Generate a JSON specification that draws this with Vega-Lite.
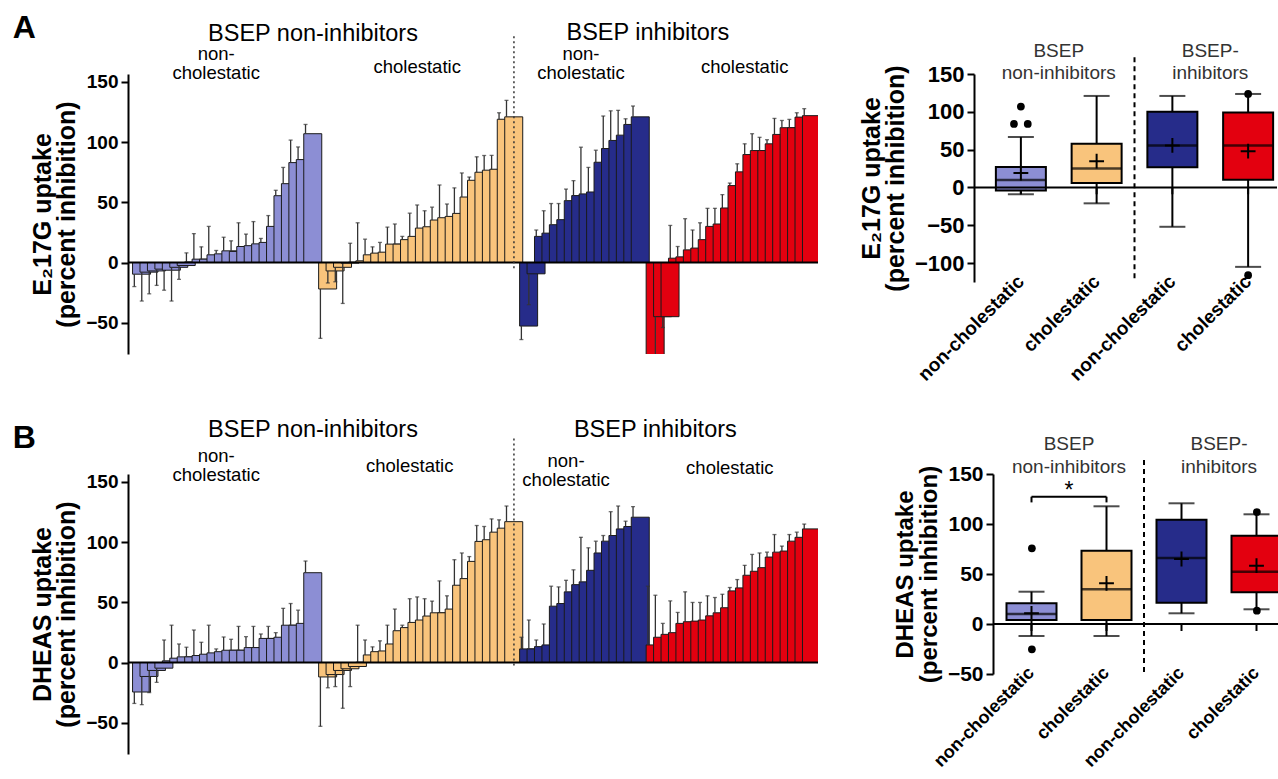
{
  "$schema": "https://vega.github.io/schema/vega-lite/v6.json",
  "padding": {"left": 12, "top": 11, "right": 0, "bottom": 0},
  "config": {
    "font": "Liberation Sans",
    "view": {"stroke": null},
    "axis": {"grid": false, "domainColor": "black", "tickColor": "black", "labelColor": "black", "titleColor": "black"}
  },
  "datasets": {
    "barsA": [
      {"i":1,"g":"ni_nc","v":-9.7,"e":-20},{"i":2,"g":"ni_nc","v":-8,"e":-32},{"i":3,"g":"ni_nc","v":-7,"e":-26},{"i":4,"g":"ni_nc","v":-5.5,"e":-19},
      {"i":5,"g":"ni_nc","v":-6.4,"e":-23},{"i":6,"g":"ni_nc","v":-4,"e":-32},{"i":7,"g":"ni_nc","v":-2.5,"e":-14},{"i":8,"g":"ni_nc","v":0.5,"e":8},
      {"i":9,"g":"ni_nc","v":2.8,"e":24},{"i":10,"g":"ni_nc","v":2.8,"e":13},{"i":11,"g":"ni_nc","v":6.4,"e":30},{"i":12,"g":"ni_nc","v":7.2,"e":10},
      {"i":13,"g":"ni_nc","v":9.7,"e":21},{"i":14,"g":"ni_nc","v":9.2,"e":18},{"i":15,"g":"ni_nc","v":13.3,"e":33},{"i":16,"g":"ni_nc","v":14,"e":23.6},
      {"i":17,"g":"ni_nc","v":15.5,"e":34},{"i":18,"g":"ni_nc","v":16.7,"e":20},{"i":19,"g":"ni_nc","v":30,"e":39},{"i":20,"g":"ni_nc","v":55.5,"e":60},
      {"i":21,"g":"ni_nc","v":65.5,"e":79},{"i":22,"g":"ni_nc","v":83,"e":101.7},{"i":23,"g":"ni_nc","v":85.5,"e":96},{"i":24,"g":"ni_nc","v":107,"e":114.7},
      {"i":26,"g":"ni_c","v":-22,"e":-63},{"i":27,"g":"ni_c","v":-7,"e":-17},{"i":28,"g":"ni_c","v":-4,"e":-16},{"i":29,"g":"ni_c","v":-0.5,"e":-34},
      {"i":30,"g":"ni_c","v":0.3,"e":16},{"i":31,"g":"ni_c","v":1.4,"e":33},{"i":32,"g":"ni_c","v":6.4,"e":19.4},{"i":33,"g":"ni_c","v":7.8,"e":13},
      {"i":34,"g":"ni_c","v":8.6,"e":16.7},{"i":35,"g":"ni_c","v":15.3,"e":29.4},{"i":36,"g":"ni_c","v":15.3,"e":32},{"i":37,"g":"ni_c","v":19,"e":21.7},
      {"i":38,"g":"ni_c","v":21.7,"e":41},{"i":39,"g":"ni_c","v":28.6,"e":47.8},{"i":40,"g":"ni_c","v":29.7,"e":43},{"i":41,"g":"ni_c","v":35.3,"e":46},
      {"i":42,"g":"ni_c","v":37.2,"e":64.4},{"i":43,"g":"ni_c","v":38.3,"e":48.6},{"i":44,"g":"ni_c","v":40.8,"e":62},{"i":45,"g":"ni_c","v":54.4,"e":74.4},
      {"i":46,"g":"ni_c","v":68.3,"e":71},{"i":47,"g":"ni_c","v":75,"e":87.8},{"i":48,"g":"ni_c","v":76.7,"e":88.9},{"i":49,"g":"ni_c","v":77.5,"e":89},
      {"i":50,"g":"ni_c","v":119,"e":124.4},{"i":51,"g":"ni_c","v":121,"e":134.7},
      {"i":53,"g":"i_nc","v":-52.8,"e":-64},{"i":54,"g":"i_nc","v":-9.4,"e":-35},{"i":55,"g":"i_nc","v":21.7,"e":27},{"i":56,"g":"i_nc","v":24.4,"e":43},
      {"i":57,"g":"i_nc","v":31.4,"e":49},{"i":58,"g":"i_nc","v":35.6,"e":49},{"i":59,"g":"i_nc","v":51.4,"e":61},{"i":60,"g":"i_nc","v":55.6,"e":68},
      {"i":61,"g":"i_nc","v":57,"e":95.8},{"i":62,"g":"i_nc","v":58.6,"e":79},{"i":63,"g":"i_nc","v":83.3,"e":93.3},{"i":64,"g":"i_nc","v":94.7,"e":121.7},
      {"i":65,"g":"i_nc","v":101.4,"e":126},{"i":66,"g":"i_nc","v":105.8,"e":126.4},{"i":67,"g":"i_nc","v":114.7,"e":119.4},{"i":68,"g":"i_nc","v":121,"e":130},
      {"i":70,"g":"i_c","v":-90,"e":-100},{"i":71,"g":"i_c","v":-45,"e":-100},{"i":72,"g":"i_c","v":-45,"e":-54},{"i":73,"g":"i_c","v":3.6,"e":30.8},
      {"i":74,"g":"i_c","v":4.7,"e":13.3},{"i":75,"g":"i_c","v":10.5,"e":36.4},{"i":76,"g":"i_c","v":12,"e":27},{"i":77,"g":"i_c","v":19,"e":33},
      {"i":78,"g":"i_c","v":30,"e":45},{"i":79,"g":"i_c","v":32,"e":45},{"i":80,"g":"i_c","v":45.3,"e":56.4},{"i":81,"g":"i_c","v":63.9,"e":66},
      {"i":82,"g":"i_c","v":75.3,"e":82},{"i":83,"g":"i_c","v":89.7,"e":98.6},{"i":84,"g":"i_c","v":93,"e":107},{"i":85,"g":"i_c","v":93,"e":104},
      {"i":86,"g":"i_c","v":98.6,"e":102},{"i":87,"g":"i_c","v":106.4,"e":119.7},{"i":88,"g":"i_c","v":112,"e":118},{"i":89,"g":"i_c","v":112,"e":118.9},
      {"i":90,"g":"i_c","v":120.8,"e":124.4},{"i":91,"g":"i_c","v":122,"e":127.8}
    ],
    "barsB": [
      {"i":1,"g":"ni_nc","v":-24.5,"e":-34},{"i":2,"g":"ni_nc","v":-11.6,"e":-35},{"i":3,"g":"ni_nc","v":-6.6,"e":-25},{"i":4,"g":"ni_nc","v":-4.7,"e":-16.5},
      {"i":5,"g":"ni_nc","v":1.4,"e":18.7},{"i":6,"g":"ni_nc","v":3.6,"e":31},{"i":7,"g":"ni_nc","v":4.7,"e":15.4},{"i":8,"g":"ni_nc","v":4.7,"e":12.7},
      {"i":9,"g":"ni_nc","v":5.8,"e":27},{"i":10,"g":"ni_nc","v":6.9,"e":16.8},{"i":11,"g":"ni_nc","v":8,"e":31},{"i":12,"g":"ni_nc","v":9,"e":11.3},
      {"i":13,"g":"ni_nc","v":10.2,"e":21.2},{"i":14,"g":"ni_nc","v":10.2,"e":19.3},{"i":15,"g":"ni_nc","v":10.2,"e":30},{"i":16,"g":"ni_nc","v":12.4,"e":21.5},
      {"i":17,"g":"ni_nc","v":12.4,"e":30},{"i":18,"g":"ni_nc","v":20,"e":23.7},{"i":19,"g":"ni_nc","v":20,"e":30},{"i":20,"g":"ni_nc","v":21,"e":24.8},
      {"i":21,"g":"ni_nc","v":31,"e":45},{"i":22,"g":"ni_nc","v":31,"e":49},{"i":23,"g":"ni_nc","v":32.5,"e":43.5},{"i":24,"g":"ni_nc","v":74.6,"e":84.3},
      {"i":26,"g":"ni_c","v":-12,"e":-53},{"i":27,"g":"ni_c","v":-10,"e":-21},{"i":28,"g":"ni_c","v":-6.6,"e":-20},{"i":29,"g":"ni_c","v":-5.2,"e":-38},
      {"i":30,"g":"ni_c","v":-3.3,"e":-20},{"i":31,"g":"ni_c","v":0.3,"e":31},{"i":32,"g":"ni_c","v":6.3,"e":18.7},{"i":33,"g":"ni_c","v":9,"e":13},
      {"i":34,"g":"ni_c","v":9.6,"e":18},{"i":35,"g":"ni_c","v":15.4,"e":31},{"i":36,"g":"ni_c","v":26.4,"e":44.4},{"i":37,"g":"ni_c","v":29,"e":31},
      {"i":38,"g":"ni_c","v":33.3,"e":53},{"i":39,"g":"ni_c","v":35.3,"e":54.5},{"i":40,"g":"ni_c","v":38.6,"e":53},{"i":41,"g":"ni_c","v":41.3,"e":51},
      {"i":42,"g":"ni_c","v":41.3,"e":67.8},{"i":43,"g":"ni_c","v":44.4,"e":55.4},{"i":44,"g":"ni_c","v":64.2,"e":85.4},{"i":45,"g":"ni_c","v":69.7,"e":91},
      {"i":46,"g":"ni_c","v":84,"e":88},{"i":47,"g":"ni_c","v":100.6,"e":113.8},{"i":48,"g":"ni_c","v":102,"e":113},{"i":49,"g":"ni_c","v":108.3,"e":119.3},
      {"i":50,"g":"ni_c","v":111.6,"e":118.5},{"i":51,"g":"ni_c","v":117,"e":130},
      {"i":53,"g":"i_nc","v":11.3,"e":21},{"i":54,"g":"i_nc","v":11.3,"e":35.3},{"i":55,"g":"i_nc","v":13.2,"e":18.7},{"i":56,"g":"i_nc","v":14.6,"e":32},
      {"i":57,"g":"i_nc","v":46.8,"e":63.4},{"i":58,"g":"i_nc","v":49,"e":62.8},{"i":59,"g":"i_nc","v":58.7,"e":68.3},{"i":60,"g":"i_nc","v":64.7,"e":77},
      {"i":61,"g":"i_nc","v":67,"e":104},{"i":62,"g":"i_nc","v":76.6,"e":95.3},{"i":63,"g":"i_nc","v":91,"e":100.8},{"i":64,"g":"i_nc","v":100.8,"e":105.5},
      {"i":65,"g":"i_nc","v":105.5,"e":125.3},{"i":66,"g":"i_nc","v":111,"e":130},{"i":67,"g":"i_nc","v":113,"e":117.4},{"i":68,"g":"i_nc","v":120.7,"e":129.5},
      {"i":70,"g":"i_c","v":14.6,"e":63.4},{"i":71,"g":"i_c","v":21,"e":55.9},{"i":72,"g":"i_c","v":23.4,"e":32.5},{"i":73,"g":"i_c","v":24.8,"e":51.2},
      {"i":74,"g":"i_c","v":32.5,"e":41.6},{"i":75,"g":"i_c","v":33.9,"e":58.7},{"i":76,"g":"i_c","v":34.4,"e":49.9},{"i":77,"g":"i_c","v":35.3,"e":49.9},
      {"i":78,"g":"i_c","v":38.8,"e":55.4},{"i":79,"g":"i_c","v":41.3,"e":54},{"i":80,"g":"i_c","v":45.5,"e":56.7},{"i":81,"g":"i_c","v":59.5,"e":62.3},
      {"i":82,"g":"i_c","v":62,"e":68.9},{"i":83,"g":"i_c","v":72.5,"e":80.7},{"i":84,"g":"i_c","v":75.8,"e":89.8},{"i":85,"g":"i_c","v":78.8,"e":91},
      {"i":86,"g":"i_c","v":87.6,"e":91.7},{"i":87,"g":"i_c","v":91.7,"e":106.3},{"i":88,"g":"i_c","v":92.6,"e":96.7},{"i":89,"g":"i_c","v":100.8,"e":106.3},
      {"i":90,"g":"i_c","v":104,"e":108.3},{"i":91,"g":"i_c","v":111,"e":115}
    ],
    "boxA": [
      {"cat":"ni_nc","lo":-9,"q1":-4,"med":10,"q3":27,"hi":66.7,"mean":19},
      {"cat":"ni_c","lo":-21,"q1":5.8,"med":25,"q3":57.8,"hi":121,"mean":34.7},
      {"cat":"i_nc","lo":-52,"q1":26.7,"med":55.6,"q3":100,"hi":121,"mean":55.6},
      {"cat":"i_c","lo":-105,"q1":10.2,"med":55.6,"q3":99,"hi":123.6,"mean":48}
    ],
    "boxB": [
      {"cat":"ni_nc","lo":-12,"q1":4,"med":10,"q3":20.7,"hi":32.3,"mean":10.7},
      {"cat":"ni_c","lo":-12,"q1":4,"med":34.7,"q3":73.3,"hi":117.7,"mean":40.7},
      {"cat":"i_nc","lo":10.7,"q1":21.3,"med":66,"q3":104.3,"hi":120.7,"mean":65},
      {"cat":"i_c","lo":14.7,"q1":31.7,"med":52.3,"q3":88.3,"hi":109.7,"mean":58.3}
    ],
    "outA": [
      {"cat":"ni_nc","v":107,"o":"f"},{"cat":"ni_nc","v":84,"o":"e"},{"cat":"ni_nc","v":84,"o":"g"},
      {"cat":"i_c","v":123.6,"o":"f"},{"cat":"i_c","v":-116,"o":"f"}
    ],
    "outB": [
      {"cat":"ni_nc","v":75.7,"o":"f"},{"cat":"ni_nc","v":-25.3,"o":"f"},
      {"cat":"i_c","v":112,"o":"f"},{"cat":"i_c","v":13.3,"o":"f"}
    ]
  },
  "spacing": 33,
  "vconcat": [
    {
      "spacing": 40,
      "hconcat": [
        {
          "width": 690, "height": 280,
          "title": {"text": "A", "anchor": "start", "frame": "bounds", "fontSize": 32, "fontWeight": "bold", "dx": -18, "dy": 28},
          "layer": [
            {"data": {"name": "barsA"}, "mark": {"type": "bar", "stroke": "#1a1a1a", "strokeWidth": 1, "clip": true, "width": {"band": 0.68}},
             "encoding": {
               "x": {"field": "i", "type": "ordinal", "scale": {"domain": [1,2,3,4,5,6,7,8,9,10,11,12,13,14,15,16,17,18,19,20,21,22,23,24,25,26,27,28,29,30,31,32,33,34,35,36,37,38,39,40,41,42,43,44,45,46,47,48,49,50,51,52,53,54,55,56,57,58,59,60,61,62,63,64,65,66,67,68,69,70,71,72,73,74,75,76,77,78,79,80,81,82,83,84,85,86,87,88,89,90,91,92], "paddingInner": 0.3, "paddingOuter": 0.5}, "axis": null},
               "y": {"field": "v", "type": "quantitative", "scale": {"domain": [-76, 156.6], "nice": false},
                     "axis": {"values": [-50, 0, 50, 100, 150], "title": ["E₂17G uptake", "(percent inhibition)"], "titleFontSize": 25, "titleFontWeight": "bold", "titleLineHeight": 24, "labelFontSize": 19, "labelFontWeight": "bold", "tickSize": 7, "tickWidth": 2, "domainWidth": 2, "labelPadding": 3, "titlePadding": 6}},
               "color": {"field": "g", "type": "nominal", "scale": {"domain": ["ni_nc", "ni_c", "i_nc", "i_c"], "range": ["#8c8ed4", "#f9c47c", "#262c8a", "#e3000f"]}, "legend": null}
             }},
            {"data": {"name": "barsA"}, "mark": {"type": "rule", "color": "#333333", "strokeWidth": 1.3, "clip": true},
             "encoding": {"x": {"field": "i", "type": "ordinal"}, "y": {"field": "v", "type": "quantitative"}, "y2": {"field": "e"}}},
            {"data": {"name": "barsA"}, "mark": {"type": "tick", "color": "#333333", "thickness": 1.3, "size": 4, "clip": true},
             "encoding": {"x": {"field": "i", "type": "ordinal"}, "y": {"field": "e", "type": "quantitative"}}},
            {"data": {"values": [{}]}, "mark": {"type": "rule", "color": "black", "strokeWidth": 2},
             "encoding": {"y": {"datum": 0, "type": "quantitative"}}},
            {"data": {"values": [{}]}, "mark": {"type": "rule", "color": "#333333", "strokeWidth": 1.5, "strokeDash": [2, 3]},
             "encoding": {"x": {"datum": 52, "type": "ordinal"}, "y": {"datum": 188, "type": "quantitative"}, "y2": {"datum": -6}}},
            {"data": {"values": [{}]}, "mark": {"type": "text", "text": "BSEP non-inhibitors", "fontSize": 23.5, "align": "center", "baseline": "middle"},
             "encoding": {"x": {"datum": 25, "type": "ordinal"}, "y": {"datum": 190, "type": "quantitative"}}},
            {"data": {"values": [{}]}, "mark": {"type": "text", "text": "BSEP inhibitors", "fontSize": 23.5, "align": "center", "baseline": "middle"},
             "encoding": {"x": {"datum": 70, "type": "ordinal"}, "y": {"datum": 191, "type": "quantitative"}}},
            {"data": {"values": [{}]}, "mark": {"type": "text", "text": ["non-", "cholestatic"], "fontSize": 18.5, "lineHeight": 19, "align": "center", "baseline": "middle"},
             "encoding": {"x": {"datum": 12, "type": "ordinal"}, "y": {"datum": 173, "type": "quantitative"}}},
            {"data": {"values": [{}]}, "mark": {"type": "text", "text": "cholestatic", "fontSize": 18.5, "align": "center", "baseline": "middle"},
             "encoding": {"x": {"datum": 39, "type": "ordinal"}, "y": {"datum": 162, "type": "quantitative"}}},
            {"data": {"values": [{}]}, "mark": {"type": "text", "text": ["non-", "cholestatic"], "fontSize": 18.5, "lineHeight": 19, "align": "center", "baseline": "middle"},
             "encoding": {"x": {"datum": 61, "type": "ordinal"}, "y": {"datum": 173, "type": "quantitative"}}},
            {"data": {"values": [{}]}, "mark": {"type": "text", "text": "cholestatic", "fontSize": 18.5, "align": "center", "baseline": "middle"},
             "encoding": {"x": {"datum": 83, "type": "ordinal"}, "y": {"datum": 162, "type": "quantitative"}}}
          ]
        },
        {
          "width": 303, "height": 208,
          "layer": [
            {"data": {"name": "boxA"}, "mark": {"type": "rule", "color": "black", "strokeWidth": 2},
             "encoding": {
               "x": {"field": "cat", "type": "nominal", "scale": {"domain": ["ni_nc", "ni_c", "i_nc", "i_c"], "range": [9, 312], "paddingInner": 0, "paddingOuter": 0},
                     "axis": {"title": null, "domain": false, "ticks": false, "tickSize": 0, "labelAngle": -45, "labelAlign": "right", "labelBaseline": "middle", "labelFontSize": 19, "labelFontWeight": "bold", "labelPadding": -4,
                              "labelExpr": "datum.value == 'ni_nc' || datum.value == 'i_nc' ? 'non-cholestatic' : 'cholestatic'"}},
               "y": {"field": "lo", "type": "quantitative", "scale": {"domain": [-125, 150], "nice": false},
                     "axis": {"values": [-100, -50, 0, 50, 100, 150], "title": ["E₂17G uptake", "(percent inhibition)"], "titleFontSize": 25, "titleFontWeight": "bold", "titleLineHeight": 24, "labelFontSize": 22, "labelFontWeight": "bold", "tickSize": 7, "tickWidth": 2, "domainWidth": 2, "labelPadding": 3, "titlePadding": 6}},
               "y2": {"field": "hi"}
             }},
            {"data": {"name": "boxA"}, "mark": {"type": "tick", "color": "black", "thickness": 2, "size": 26},
             "encoding": {"x": {"field": "cat", "type": "nominal"}, "y": {"field": "lo", "type": "quantitative"}}},
            {"data": {"name": "boxA"}, "mark": {"type": "tick", "color": "black", "thickness": 2, "size": 26},
             "encoding": {"x": {"field": "cat", "type": "nominal"}, "y": {"field": "hi", "type": "quantitative"}}},
            {"data": {"name": "boxA"}, "mark": {"type": "rule", "color": "black", "strokeWidth": 2},
             "encoding": {"x": {"field": "cat", "type": "nominal"}, "y": {"datum": 0, "type": "quantitative"}, "y2": {"datum": -9}}},
            {"data": {"name": "boxA"}, "mark": {"type": "bar", "size": 50, "stroke": "black", "strokeWidth": 2},
             "encoding": {"x": {"field": "cat", "type": "nominal"}, "y": {"field": "q1", "type": "quantitative"}, "y2": {"field": "q3"},
                          "color": {"field": "cat", "type": "nominal", "scale": {"domain": ["ni_nc", "ni_c", "i_nc", "i_c"], "range": ["#9294d6", "#f6c07c", "#262c8a", "#e3000f"]}, "legend": null}}},
            {"data": {"name": "boxA"}, "mark": {"type": "tick", "color": "black", "thickness": 2.5, "size": 50},
             "encoding": {"x": {"field": "cat", "type": "nominal"}, "y": {"field": "med", "type": "quantitative"}}},
            {"data": {"name": "boxA"}, "mark": {"type": "point", "shape": "M-1,0L1,0M0,-1L0,1", "filled": false, "stroke": "black", "strokeWidth": 2, "size": 220, "opacity": 1},
             "encoding": {"x": {"field": "cat", "type": "nominal"}, "y": {"field": "mean", "type": "quantitative"}}},
            {"data": {"values": [{}]}, "mark": {"type": "rule", "color": "black", "strokeWidth": 2},
             "encoding": {"y": {"datum": 0, "type": "quantitative"}}},
            {"data": {"name": "outA"}, "mark": {"type": "point", "shape": "circle", "filled": true, "color": "black", "size": 60, "opacity": 1},
             "encoding": {"x": {"field": "cat", "type": "nominal"}, "xOffset": {"field": "o", "type": "nominal", "scale": {"domain": ["a","b","c","d","e","f","g","h","i","j","k"]}}, "y": {"field": "v", "type": "quantitative"}}},
            {"data": {"values": [{}]}, "mark": {"type": "rule", "color": "black", "strokeWidth": 2, "strokeDash": [5, 4]},
             "encoding": {"x": {"datum": "ni_c", "type": "nominal", "bandPosition": 1}, "y": {"datum": 172, "type": "quantitative"}, "y2": {"datum": -125}}},
            {"data": {"values": [{}]}, "mark": {"type": "text", "text": ["BSEP", "non-inhibitors"], "fontSize": 19, "lineHeight": 22, "align": "center", "baseline": "middle", "color": "#333333"},
             "encoding": {"x": {"datum": "ni_nc", "type": "nominal", "bandPosition": 1}, "y": {"datum": 180, "type": "quantitative"}}},
            {"data": {"values": [{}]}, "mark": {"type": "text", "text": ["BSEP-", "inhibitors"], "fontSize": 19, "lineHeight": 22, "align": "center", "baseline": "middle", "color": "#333333"},
             "encoding": {"x": {"datum": "i_nc", "type": "nominal", "bandPosition": 1}, "y": {"datum": 180, "type": "quantitative"}}}
          ]
        }
      ]
    },
    {
      "spacing": 74,
      "hconcat": [
        {
          "width": 690, "height": 280,
          "title": {"text": "B", "anchor": "start", "frame": "bounds", "fontSize": 32, "fontWeight": "bold", "dx": -18, "dy": 41},
          "layer": [
            {"data": {"name": "barsB"}, "mark": {"type": "bar", "stroke": "#1a1a1a", "strokeWidth": 1, "clip": true, "width": {"band": 0.68}},
             "encoding": {
               "x": {"field": "i", "type": "ordinal", "scale": {"domain": [1,2,3,4,5,6,7,8,9,10,11,12,13,14,15,16,17,18,19,20,21,22,23,24,25,26,27,28,29,30,31,32,33,34,35,36,37,38,39,40,41,42,43,44,45,46,47,48,49,50,51,52,53,54,55,56,57,58,59,60,61,62,63,64,65,66,67,68,69,70,71,72,73,74,75,76,77,78,79,80,81,82,83,84,85,86,87,88,89,90,91,92], "paddingInner": 0.3, "paddingOuter": 0.5}, "axis": null},
               "y": {"field": "v", "type": "quantitative", "scale": {"domain": [-76, 156.6], "nice": false},
                     "axis": {"values": [-50, 0, 50, 100, 150], "title": ["DHEAS uptake", "(percent inhibition)"], "titleFontSize": 25, "titleFontWeight": "bold", "titleLineHeight": 24, "labelFontSize": 19, "labelFontWeight": "bold", "tickSize": 7, "tickWidth": 2, "domainWidth": 2, "labelPadding": 3, "titlePadding": 6}},
               "color": {"field": "g", "type": "nominal", "scale": {"domain": ["ni_nc", "ni_c", "i_nc", "i_c"], "range": ["#8c8ed4", "#f9c47c", "#262c8a", "#e3000f"]}, "legend": null}
             }},
            {"data": {"name": "barsB"}, "mark": {"type": "rule", "color": "#333333", "strokeWidth": 1.3, "clip": true},
             "encoding": {"x": {"field": "i", "type": "ordinal"}, "y": {"field": "v", "type": "quantitative"}, "y2": {"field": "e"}}},
            {"data": {"name": "barsB"}, "mark": {"type": "tick", "color": "#333333", "thickness": 1.3, "size": 4, "clip": true},
             "encoding": {"x": {"field": "i", "type": "ordinal"}, "y": {"field": "e", "type": "quantitative"}}},
            {"data": {"values": [{}]}, "mark": {"type": "rule", "color": "black", "strokeWidth": 2},
             "encoding": {"y": {"datum": 0, "type": "quantitative"}}},
            {"data": {"values": [{}]}, "mark": {"type": "rule", "color": "#333333", "strokeWidth": 1.5, "strokeDash": [2, 3]},
             "encoding": {"x": {"datum": 52, "type": "ordinal"}, "y": {"datum": 186, "type": "quantitative"}, "y2": {"datum": -4}}},
            {"data": {"values": [{}]}, "mark": {"type": "text", "text": "BSEP non-inhibitors", "fontSize": 23.5, "align": "center", "baseline": "middle"},
             "encoding": {"x": {"datum": 25, "type": "ordinal"}, "y": {"datum": 193, "type": "quantitative"}}},
            {"data": {"values": [{}]}, "mark": {"type": "text", "text": "BSEP inhibitors", "fontSize": 23.5, "align": "center", "baseline": "middle"},
             "encoding": {"x": {"datum": 71, "type": "ordinal"}, "y": {"datum": 193, "type": "quantitative"}}},
            {"data": {"values": [{}]}, "mark": {"type": "text", "text": ["non-", "cholestatic"], "fontSize": 18.5, "lineHeight": 19, "align": "center", "baseline": "middle"},
             "encoding": {"x": {"datum": 12, "type": "ordinal"}, "y": {"datum": 171.2, "type": "quantitative"}}},
            {"data": {"values": [{}]}, "mark": {"type": "text", "text": "cholestatic", "fontSize": 18.5, "align": "center", "baseline": "middle"},
             "encoding": {"x": {"datum": 38, "type": "ordinal"}, "y": {"datum": 163.5, "type": "quantitative"}}},
            {"data": {"values": [{}]}, "mark": {"type": "text", "text": ["non-", "cholestatic"], "fontSize": 18.5, "lineHeight": 19, "align": "center", "baseline": "middle"},
             "encoding": {"x": {"datum": 59, "type": "ordinal"}, "y": {"datum": 167.8, "type": "quantitative"}}},
            {"data": {"values": [{}]}, "mark": {"type": "text", "text": "cholestatic", "fontSize": 18.5, "align": "center", "baseline": "middle"},
             "encoding": {"x": {"datum": 81, "type": "ordinal"}, "y": {"datum": 161.2, "type": "quantitative"}}}
          ]
        },
        {
          "width": 295, "height": 200,
          "layer": [
            {"data": {"name": "boxB"}, "mark": {"type": "rule", "color": "black", "strokeWidth": 2},
             "encoding": {
               "x": {"field": "cat", "type": "nominal", "scale": {"domain": ["ni_nc", "ni_c", "i_nc", "i_c"], "range": [1, 301], "paddingInner": 0, "paddingOuter": 0},
                     "axis": {"title": null, "domain": false, "ticks": false, "tickSize": 0, "labelAngle": -45, "labelAlign": "right", "labelBaseline": "middle", "labelFontSize": 18, "labelFontWeight": "bold", "labelPadding": -4,
                              "labelExpr": "datum.value == 'ni_nc' || datum.value == 'i_nc' ? 'non-cholestatic' : 'cholestatic'"}},
               "y": {"field": "lo", "type": "quantitative", "scale": {"domain": [-50, 150], "nice": false},
                     "axis": {"values": [-50, 0, 50, 100, 150], "title": ["DHEAS uptake", "(percent inhibition)"], "titleFontSize": 24, "titleFontWeight": "bold", "titleLineHeight": 24, "labelFontSize": 21, "labelFontWeight": "bold", "tickSize": 7, "tickWidth": 2, "domainWidth": 2, "labelPadding": 3, "titlePadding": 6}},
               "y2": {"field": "hi"}
             }},
            {"data": {"name": "boxB"}, "mark": {"type": "tick", "color": "black", "thickness": 2, "size": 26},
             "encoding": {"x": {"field": "cat", "type": "nominal"}, "y": {"field": "lo", "type": "quantitative"}}},
            {"data": {"name": "boxB"}, "mark": {"type": "tick", "color": "black", "thickness": 2, "size": 26},
             "encoding": {"x": {"field": "cat", "type": "nominal"}, "y": {"field": "hi", "type": "quantitative"}}},
            {"data": {"name": "boxB"}, "mark": {"type": "rule", "color": "black", "strokeWidth": 2},
             "encoding": {"x": {"field": "cat", "type": "nominal"}, "y": {"datum": 0, "type": "quantitative"}, "y2": {"datum": -7}}},
            {"data": {"name": "boxB"}, "mark": {"type": "bar", "size": 50, "stroke": "black", "strokeWidth": 2},
             "encoding": {"x": {"field": "cat", "type": "nominal"}, "y": {"field": "q1", "type": "quantitative"}, "y2": {"field": "q3"},
                          "color": {"field": "cat", "type": "nominal", "scale": {"domain": ["ni_nc", "ni_c", "i_nc", "i_c"], "range": ["#9294d6", "#f6c07c", "#262c8a", "#e3000f"]}, "legend": null}}},
            {"data": {"name": "boxB"}, "mark": {"type": "tick", "color": "black", "thickness": 2.5, "size": 50},
             "encoding": {"x": {"field": "cat", "type": "nominal"}, "y": {"field": "med", "type": "quantitative"}}},
            {"data": {"name": "boxB"}, "mark": {"type": "point", "shape": "M-1,0L1,0M0,-1L0,1", "filled": false, "stroke": "black", "strokeWidth": 2, "size": 220, "opacity": 1},
             "encoding": {"x": {"field": "cat", "type": "nominal"}, "y": {"field": "mean", "type": "quantitative"}}},
            {"data": {"values": [{}]}, "mark": {"type": "rule", "color": "black", "strokeWidth": 2},
             "encoding": {"y": {"datum": 0, "type": "quantitative"}}},
            {"data": {"name": "outB"}, "mark": {"type": "point", "shape": "circle", "filled": true, "color": "black", "size": 60, "opacity": 1},
             "encoding": {"x": {"field": "cat", "type": "nominal"}, "xOffset": {"field": "o", "type": "nominal", "scale": {"domain": ["a","b","c","d","e","f","g","h","i","j","k"]}}, "y": {"field": "v", "type": "quantitative"}}},
            {"data": {"values": [{}]}, "mark": {"type": "rule", "color": "black", "strokeWidth": 2},
             "encoding": {"x": {"datum": "ni_nc", "type": "nominal"}, "x2": {"datum": "ni_c"}, "y": {"datum": 127.3, "type": "quantitative"}}},
            {"data": {"values": [{}]}, "mark": {"type": "rule", "color": "black", "strokeWidth": 2},
             "encoding": {"x": {"datum": "ni_nc", "type": "nominal"}, "y": {"datum": 127.3, "type": "quantitative"}, "y2": {"datum": 121.6}}},
            {"data": {"values": [{}]}, "mark": {"type": "rule", "color": "black", "strokeWidth": 2},
             "encoding": {"x": {"datum": "ni_c", "type": "nominal"}, "y": {"datum": 127.3, "type": "quantitative"}, "y2": {"datum": 121.6}}},
            {"data": {"values": [{}]}, "mark": {"type": "text", "text": "*", "fontSize": 23, "align": "center", "baseline": "alphabetic"},
             "encoding": {"x": {"datum": "ni_nc", "type": "nominal", "bandPosition": 1}, "y": {"datum": 126, "type": "quantitative"}}},
            {"data": {"values": [{}]}, "mark": {"type": "rule", "color": "black", "strokeWidth": 2, "strokeDash": [5, 4]},
             "encoding": {"x": {"datum": "ni_c", "type": "nominal", "bandPosition": 1}, "y": {"datum": 164, "type": "quantitative"}, "y2": {"datum": -50}}},
            {"data": {"values": [{}]}, "mark": {"type": "text", "text": ["BSEP", "non-inhibitors"], "fontSize": 19, "lineHeight": 23, "align": "center", "baseline": "middle", "color": "#333333"},
             "encoding": {"x": {"datum": "ni_nc", "type": "nominal", "bandPosition": 1}, "y": {"datum": 180, "type": "quantitative"}}},
            {"data": {"values": [{}]}, "mark": {"type": "text", "text": ["BSEP-", "inhibitors"], "fontSize": 19, "lineHeight": 23, "align": "center", "baseline": "middle", "color": "#333333"},
             "encoding": {"x": {"datum": "i_nc", "type": "nominal", "bandPosition": 1}, "y": {"datum": 180, "type": "quantitative"}}}
          ]
        }
      ]
    }
  ]
}
